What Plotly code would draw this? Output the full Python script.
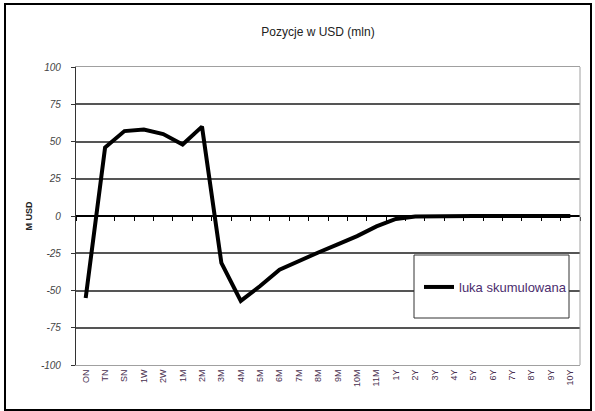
import plotly.graph_objects as go

categories = ["ON", "TN", "SN", "1W", "2W", "1M", "2M", "3M", "4M", "5M", "6M", "7M", "8M",
              "9M", "10M", "11M", "1Y", "2Y", "3Y", "4Y", "5Y", "6Y", "7Y", "8Y", "9Y", "10Y"]
luka_skumulowana = [-55, 46, 57, 58, 55, 48, 60, -31.5, -57, -47, -36, -30, -24.5,
                    -19, -13.5, -7, -2, -0.3, 0, 0, 0, 0, 0, 0, 0, 0]
y_ticks = [-100, -75, -50, -25, 0, 25, 50, 75, 100]
y_tick_labels = ["-100", "-75", "-50", "-25", "0", "25", "50", "75", "100"]

W, H = 595, 411
L, R, T, B = 76, 15, 67, 46
pw, ph = W - L - R, H - T - B

def px(x):
    return (x - L) / pw

def py(y):
    return (H - B - y) / ph

fig = go.Figure()
fig.add_trace(go.Scatter(x=categories, y=luka_skumulowana, xaxis="x", yaxis="y",
                         mode="lines", line=dict(width=0, color="rgba(0,0,0,0)"),
                         showlegend=False, hoverinfo="skip"))
fig.add_trace(go.Scatter(x=categories, y=luka_skumulowana, xaxis="x2", yaxis="y",
                         mode="lines", name="luka skumulowana",
                         line=dict(color="black", width=4)))

font_family = "Liberation Sans, Arial, sans-serif"

fig.update_layout(
    width=W, height=H,
    margin=dict(l=L, r=R, t=T, b=B, autoexpand=False),
    paper_bgcolor="white", plot_bgcolor="white",
    font=dict(family=font_family, color="#333"),
    title=dict(text="Pozycje w USD (mln)", x=318 / W, xanchor="center",
               y=1 - 32 / H, yanchor="middle",
               font=dict(size=12, color="#222", family=font_family)),
    xaxis=dict(type="category", categoryorder="array", categoryarray=categories,
               range=[-0.5, len(categories) - 0.5],
               showgrid=False, zeroline=False, showline=True, linecolor="#a0a0a0",
               linewidth=1, mirror=True, ticks="", tickangle=-90,
               tickfont=dict(size=9, color="#4a3050"), fixedrange=True),
    xaxis2=dict(type="category", categoryorder="array", categoryarray=categories,
                range=[-0.5, len(categories) - 0.5], overlaying="x", anchor="free",
                position=0.5, side="bottom", showgrid=False, zeroline=False,
                showline=True, linecolor="black", linewidth=1.5,
                ticks="outside", tickson="boundaries", ticklen=4, tickwidth=1,
                tickcolor="black", showticklabels=False),
    yaxis=dict(range=[-100, 100], tickmode="array", tickvals=y_ticks,
               ticktext=["<i>%s</i>" % t for t in y_tick_labels], showgrid=True,
               gridcolor="#555555", gridwidth=1.5, zeroline=False,
               showline=True, linecolor="#333", linewidth=1.2,
               ticks="outside", ticklen=4, tickcolor="#333", ticklabelstandoff=8,
               tickfont=dict(size=10, color="#444"),
               title=dict(text="<b>M USD</b>", standoff=6,
                          font=dict(size=9, color="#222"))),
    showlegend=True,
    legend=dict(x=px(419), y=py(287), xanchor="left", yanchor="middle",
                bgcolor="rgba(0,0,0,0)", borderwidth=0,
                font=dict(size=13, color="#4b2d6e"), itemwidth=30),
    shapes=[
        dict(type="rect", xref="paper", yref="paper",
             x0=px(414), x1=px(569), y0=py(318), y1=py(255),
             line=dict(color="#333", width=1), fillcolor="white", layer="above"),
        dict(type="line", xref="paper", yref="paper", x0=1, x1=1, y0=0, y1=1,
             line=dict(color="#a0a0a0", width=1)),
        dict(type="rect", xref="paper", yref="paper",
             x0=px(5), x1=px(591), y0=py(410), y1=py(4),
             line=dict(color="black", width=2), fillcolor="rgba(0,0,0,0)"),
    ],
)

fig.write_html("out.html", config={"displayModeBar": False},
               post_script="document.body.style.margin='0';")
